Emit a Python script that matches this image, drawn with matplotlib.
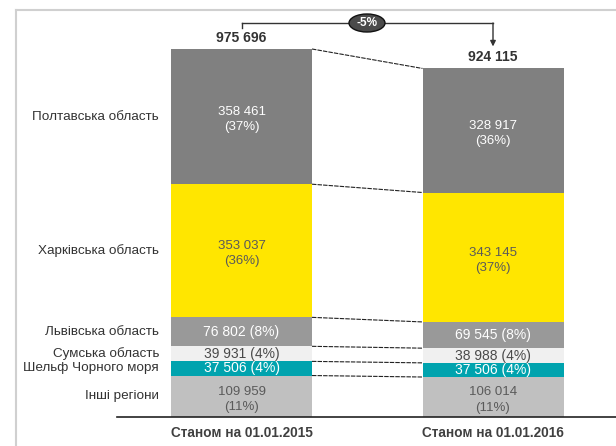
import matplotlib
matplotlib.use("Agg")
import numpy as np
import matplotlib.pyplot as plt
from matplotlib.lines import Line2D
from matplotlib.patches import Ellipse

plt.rcParams['font.family'] = ['Liberation Sans', 'DejaVu Sans']

# data, bottom segment first
regions = ["Інші регіони", "Шельф Чорного моря", "Сумська область",
           "Львівська область", "Харківська область", "Полтавська область"]
values_2015 = [109959, 37506, 39931, 76802, 353037, 358461]
values_2016 = [106014, 37506, 38988, 69545, 343145, 328917]
pct_2015 = [11, 4, 4, 8, 36, 37]
pct_2016 = [11, 4, 4, 8, 37, 36]
periods = ["Станом на 01.01.2015", "Станом на 01.01.2016"]
change_label = "-5%"

seg_colors = ['#c0c0c0', '#00a3ae', '#f0f0f0', '#999999', '#ffe600', '#808080']
txt_colors = ['#5a5a5a', 'white', '#4a4a4a', 'white', '#5a5a5a', 'white']
two_lines = [True, False, False, False, True, True]

W, H = 616, 446
fig = plt.figure(figsize=(W / 100, H / 100), dpi=100)
ax = fig.add_axes([0, 0, 1, 1])
ax.axis('off')

# pixel scale so the picture lines up with the reference
upp = 975696 / 368.0          # data units per pixel (vertical)
xpp = 1 / 251.5               # x units per pixel
base_px = 29                  # baseline height from bottom
ax.set_ylim(-base_px * upp, (H - base_px) * upp)
ax.set_xlim(-241.5 * xpp, (W - 241.5) * xpp)

def fmt(v):
    return f"{v:,}".replace(",", " ")

xs = np.arange(len(periods))
bw = 141 * xpp
all_vals = [values_2015, values_2016]
all_pct = [pct_2015, pct_2016]
bottoms = []
for i, vals in enumerate(all_vals):
    b = np.concatenate([[0], np.cumsum(vals)[:-1]])
    bottoms.append(b)
    ax.bar(xs[i], vals, bottom=b, width=bw, color=seg_colors, linewidth=0)
    for v, p, bt, tc, tl in zip(vals, all_pct[i], b, txt_colors, two_lines):
        if tl:
            ax.annotate(f"{fmt(v)}\n({p}%)", (xs[i], bt + v / 2), xytext=(0, -2.2),
                        textcoords='offset points', ha='center', va='center',
                        fontsize=9.5, color=tc, linespacing=1.35)
        else:
            ax.text(xs[i], bt + v / 2, f"{fmt(v)} ({p}%)", ha='center',
                    va='center', fontsize=10, color=tc)
    ax.annotate(fmt(sum(vals)), (xs[i], sum(vals)), xytext=(0, 3),
                textcoords='offset points', ha='center', va='bottom',
                fontsize=10, fontweight='bold', color='#333333')
    ax.text(xs[i], -16 * upp, periods[i], ha='center', va='center',
            fontsize=9.8, fontweight='bold', color='#404040')

# connectors between bars
tops = [np.cumsum(v) for v in all_vals]
for k in range(len(regions)):
    y1, y2 = tops[0][k], tops[1][k]
    ax.plot([xs[0] + bw / 2, xs[1] - bw / 2], [y1, y2], color='#222222',
            lw=0.8, ls=(0, (4, 1)))

# region labels
for k, r in enumerate(regions):
    yc = bottoms[0][k] + values_2015[k] / 2
    ax.text(xs[0] - bw / 2 - 12 * xpp, yc, r, ha='right', va='center',
            fontsize=9.7, color='#333333')

# baseline
ax.plot([(117 - 241.5) * xpp, (W - 241.5) * xpp], [0, 0], color='#222222', lw=1.2)

# change bracket
ytop = (H - base_px - 23) * upp
ax.plot([xs[0], xs[0]], [ytop - 5 * upp, ytop], color='#333333', lw=1)
ax.plot([xs[0], xs[1]], [ytop, ytop], color='#333333', lw=1)
ax.annotate('', xy=(xs[1], sum(values_2016) + 22 * upp), xytext=(xs[1], ytop),
            arrowprops=dict(arrowstyle='-|>', color='#333333', lw=1,
                            mutation_scale=8, shrinkA=0, shrinkB=0))
xm = (367 - 241.5) * xpp
ax.add_patch(Ellipse((xm, ytop), 36 * xpp, 18 * upp, facecolor='#4a4a4a',
                     edgecolor='#111111', lw=1, zorder=5))
ax.text(xm, ytop, change_label, ha='center', va='center', fontsize=8.5,
        fontweight='bold', color='white', zorder=6)

# light frame
fig.add_artist(Line2D([16 / W, 1], [1 - 10 / H, 1 - 10 / H], color='#d0d0d0', lw=1.5))
fig.add_artist(Line2D([16 / W, 16 / W], [0, 1 - 10 / H], color='#d0d0d0', lw=1.5))

fig.savefig("out.png", dpi=100)
